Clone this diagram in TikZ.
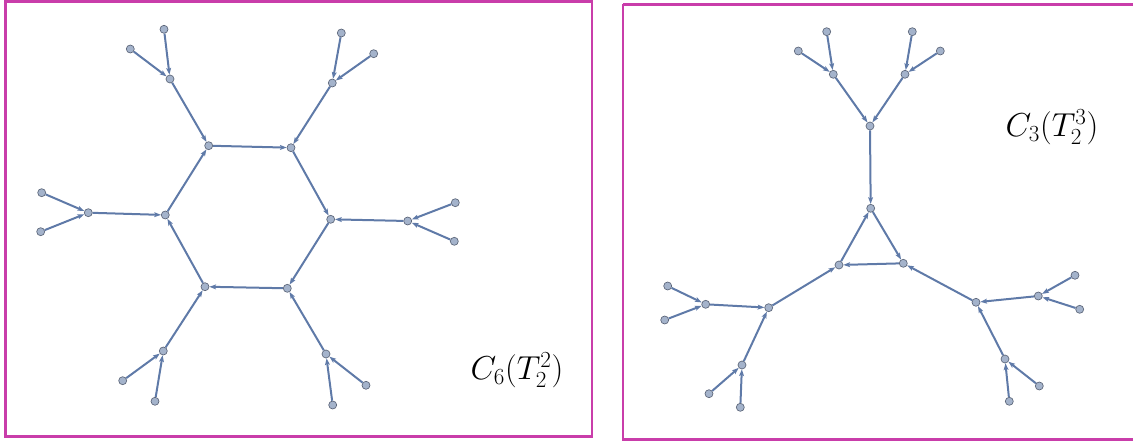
\documentclass[tikz,border=0pt]{standalone}
\usetikzlibrary{arrows.meta}
\definecolor{frame}{HTML}{C93DAA}
\definecolor{edgec}{HTML}{5F7AA8}
\definecolor{vfill}{HTML}{A4B3CB}
\definecolor{vdraw}{HTML}{5C6679}
\tikzset{
  v/.style={circle,inner sep=0pt,minimum size=6pt,fill=vfill,draw=vdraw,line width=0.5pt},
  e/.style={draw=edgec,line width=1.5pt,-{Stealth[length=5pt,width=3.6pt,inset=1pt]}},
  panel/.style={draw=frame,line width=2.2pt},
  lab/.style={font=\fontsize{25}{30}\selectfont}
}
\begin{document}
\begin{tikzpicture}[x=0.75pt,y=-0.75pt]
\useasboundingbox (0,0) rectangle (1133,442);
% panels
\draw[panel] (5.5,1.5) rectangle (592,436.5);
\draw[panel] (623,4.5) -- (1140,4.5);
\draw[panel] (623,4.5) -- (623,439.5) -- (1140,439.5);
% ---------- left: C6(T2^2)
\node[v] (h1) at (208.7,145.7) {};
\node[v] (h2) at (291,147.7) {};
\node[v] (h3) at (330.7,219.3) {};
\node[v] (h4) at (287.3,288.3) {};
\node[v] (h5) at (205,286.7) {};
\node[v] (h6) at (165.3,215) {};
\node[v] (a1) at (170,79) {};
\node[v] (a1l) at (164,29.3) {};
\node[v] (a1r) at (130.3,49) {};
\node[v] (a2) at (332.3,83) {};
\node[v] (a2l) at (341.3,33) {};
\node[v] (a2r) at (373.7,53.7) {};
\node[v] (a3) at (407.7,221) {};
\node[v] (a3l) at (455.3,202.7) {};
\node[v] (a3r) at (454.3,241.3) {};
\node[v] (a4) at (326,354) {};
\node[v] (a4l) at (366,385.3) {};
\node[v] (a4r) at (332.7,405) {};
\node[v] (a5) at (163.3,351) {};
\node[v] (a5l) at (122.7,380.7) {};
\node[v] (a5r) at (155,401.3) {};
\node[v] (a6) at (88.3,212.7) {};
\node[v] (a6l) at (41.7,192.7) {};
\node[v] (a6r) at (40.7,231.7) {};
\path[e] (h1) -- (h2);
\path[e] (h2) -- (h3);
\path[e] (h3) -- (h4);
\path[e] (h4) -- (h5);
\path[e] (h5) -- (h6);
\path[e] (h6) -- (h1);
\path[e] (a1) -- (h1);
\path[e] (a2) -- (h2);
\path[e] (a3) -- (h3);
\path[e] (a4) -- (h4);
\path[e] (a5) -- (h5);
\path[e] (a6) -- (h6);
\path[e] (a1l) -- (a1);
\path[e] (a1r) -- (a1);
\path[e] (a2l) -- (a2);
\path[e] (a2r) -- (a2);
\path[e] (a3l) -- (a3);
\path[e] (a3r) -- (a3);
\path[e] (a4l) -- (a4);
\path[e] (a4r) -- (a4);
\path[e] (a5l) -- (a5);
\path[e] (a5r) -- (a5);
\path[e] (a6l) -- (a6);
\path[e] (a6r) -- (a6);
\node[lab] (lab1) at (517,370) {$C_6(T_2^2)$};
% ---------- right: C3(T2^3)
\node[v] (t1) at (870.7,208.3) {};
\node[v] (t2) at (903.3,263.3) {};
\node[v] (t3) at (839,265) {};
\node[v] (b1) at (870,126) {};
\node[v] (c1) at (833.3,74.3) {};
\node[v] (c2) at (905,74.3) {};
\node[v] (c1l) at (826.7,31.7) {};
\node[v] (c1r) at (798.3,51) {};
\node[v] (c2l) at (912.3,31.7) {};
\node[v] (c2r) at (940.3,51) {};
\node[v] (b2) at (768.7,307.7) {};
\node[v] (c3) at (705.7,304.3) {};
\node[v] (c3l) at (667.7,286) {};
\node[v] (c3r) at (664.7,320) {};
\node[v] (c4) at (742,365) {};
\node[v] (c4l) at (709,393.7) {};
\node[v] (c4r) at (740.3,407.3) {};
\node[v] (b3) at (976,302.3) {};
\node[v] (c5) at (1038.3,296) {};
\node[v] (c5l) at (1075,275.3) {};
\node[v] (c5r) at (1079.7,309.3) {};
\node[v] (c6) at (1005,359) {};
\node[v] (c6l) at (1039.3,386) {};
\node[v] (c6r) at (1009.3,401.3) {};
\path[e] (t1) -- (t2);
\path[e] (t2) -- (t3);
\path[e] (t3) -- (t1);
\path[e] (b1) -- (t1);
\path[e] (b2) -- (t3);
\path[e] (b3) -- (t2);
\path[e] (c1) -- (b1);
\path[e] (c2) -- (b1);
\path[e] (c3) -- (b2);
\path[e] (c4) -- (b2);
\path[e] (c5) -- (b3);
\path[e] (c6) -- (b3);
\path[e] (c1l) -- (c1);
\path[e] (c1r) -- (c1);
\path[e] (c2l) -- (c2);
\path[e] (c2r) -- (c2);
\path[e] (c3l) -- (c3);
\path[e] (c3r) -- (c3);
\path[e] (c4l) -- (c4);
\path[e] (c4r) -- (c4);
\path[e] (c5l) -- (c5);
\path[e] (c5r) -- (c5);
\path[e] (c6l) -- (c6);
\path[e] (c6r) -- (c6);
\node[lab] (lab2) at (1052,127) {$C_3(T_2^3)$};
\end{tikzpicture}
\end{document}
